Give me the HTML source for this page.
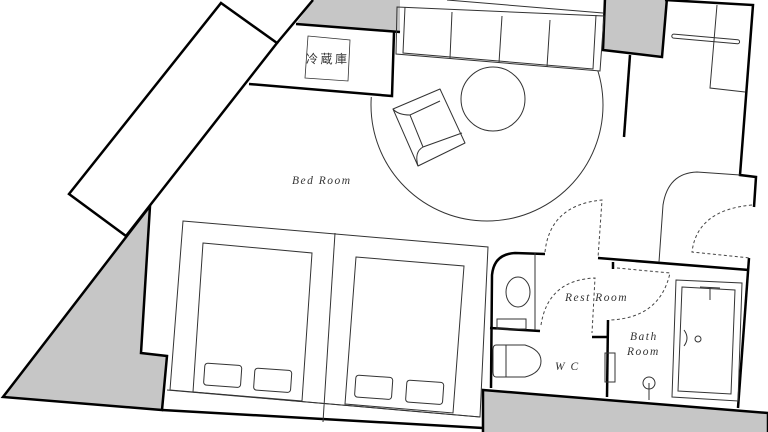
<!DOCTYPE html>
<html><head><meta charset="utf-8"><style>
html,body{margin:0;padding:0;background:#fff;width:768px;height:432px;overflow:hidden}
svg{display:block}
text{font-family:"Liberation Serif",serif;font-style:italic;fill:#333;letter-spacing:1.5px}
</style></head><body>
<svg width="768" height="432" viewBox="0 0 768 432" xmlns="http://www.w3.org/2000/svg">
<defs>
<clipPath id="rug"><polygon points="397,97 403,53 600,71 768,71 768,432 0,432 0,97"/></clipPath>
</defs>
<g fill="#c6c6c6" stroke="#000" stroke-width="2.5" stroke-linejoin="miter">
  <polygon points="313,0 400,0 400,32 296,24" stroke="none"/>
  <polygon points="605,-2 667,-2 662,57 603,50" />
  <polygon points="150,206 141,353 167,356 162,410 3,397" />
  <polygon points="483,390 768,413 768,440 483,440" />
</g>
<g fill="none" stroke="#000" stroke-width="2.5">
  <polygon points="221,3 277,43 126,236 69,194" fill="#fff"/>
  <polyline points="313,0 277,43"/>
  <polyline points="296,24 400,32"/>
  <polyline points="249,84 392,96 394,32"/>
  <polyline points="162,410 483,428"/>
  <polyline points="630,55 624,137"/>
  <polyline points="665,0 753,5 740,175 756,177 754,207"/>
  <path d="M491,388 L492,275 Q494,254 515,253 L545,254"/>
  <polyline points="490,328 540,331"/>
  <polyline points="598,258 749,270"/>
  <polyline points="613,262 613,269"/>
  <polyline points="749,258 738,408"/>
  <polyline points="608,320 607,397"/>
  <polyline points="592,337 608,337"/>
</g>
<polygon points="308,36 350,40 348,81 305,78" fill="none" stroke="#333" stroke-width="0.8"/>
<text x="306" y="63" font-size="12" style="font-style:normal;letter-spacing:2.5px" font-family="Liberation Serif, Noto Serif CJK SC, serif">冷蔵庫</text>
<circle cx="487" cy="105" r="116" fill="none" stroke="#333" stroke-width="1" clip-path="url(#rug)"/>
<g fill="none" stroke="#333" stroke-width="1">
  <line x1="447" y1="0" x2="603" y2="13"/>
  <polygon points="397,7 604,16 600,71 396,54"/>
  <polyline points="405,7 403,53 593,69 596,15"/>
  <line x1="452" y1="12" x2="450" y2="58"/>
  <line x1="502" y1="16" x2="499" y2="63"/>
  <line x1="550" y1="20" x2="547" y2="67"/>
  <circle cx="493" cy="99" r="32"/>
  <polygon points="393,109 440,89 465,143 418,166" stroke-linejoin="round"/>
  <path d="M393,109 Q398,115 410,115 L440,101"/>
  <line x1="410" y1="115" x2="423" y2="147"/>
  <path d="M418,166 Q414,152 423,147 L462,133"/>
  <polyline points="717,5 710,88 745,92"/>
  <rect x="672" y="34" width="68" height="4" rx="2" transform="rotate(5 672 34)"/>
  <polygon points="183,221 488,247 480,417 170,390"/>
  <line x1="335" y1="233" x2="323" y2="422"/>
  <line x1="167" y1="390" x2="480" y2="417"/>
  <polygon points="203,243 312,253 302,401 193,392"/>
  <polygon points="356,257 464,266 453,413 345,404"/>
  <rect x="205" y="363" width="37" height="22" rx="3" transform="rotate(4 205 363)"/>
  <rect x="255" y="368" width="37" height="22" rx="3" transform="rotate(4 255 368)"/>
  <rect x="356" y="375" width="37" height="22" rx="3" transform="rotate(4 356 375)"/>
  <rect x="407" y="380" width="37" height="22" rx="3" transform="rotate(4 407 380)"/>
  <path d="M659,262 L663,205 Q668,173 697,172 L740,175"/>
  <line x1="535" y1="253" x2="535" y2="330"/>
  <ellipse cx="518" cy="292" rx="12" ry="15"/>
  <rect x="497" y="319" width="29" height="10"/>
  <path d="M496,345 L525,345 Q541,350 541,361 Q541,373 525,377 L496,377 Q493,377 493,372 L493,350 Q493,345 496,345 Z"/>
  <line x1="506" y1="345" x2="506" y2="377"/>
  <rect x="605" y="353" width="10" height="29"/>
  <polygon points="676,280 742,283 738,401 672,397"/>
  <polygon points="682,287 735,290 731,394 678,391"/>
  <line x1="700" y1="287" x2="720" y2="288"/>
  <line x1="710" y1="288" x2="710" y2="300"/>
  <circle cx="698" cy="339" r="3"/>
  <path d="M684,330 Q690,338 684,346"/>
  <circle cx="649" cy="383" r="6"/>
  <line x1="649" y1="383" x2="649" y2="400"/>
</g>
<g fill="none" stroke="#444" stroke-width="1" stroke-dasharray="3,2.5">
  <path d="M545,252 Q550,205 602,200 L598,258"/>
  <path d="M752,205 Q697,210 692,252 L750,258"/>
  <path d="M541,325 Q548,280 595,278 L592,333"/>
  <path d="M617,268 L670,273 Q660,318 610,320"/>
</g>
<text x="292" y="184" font-size="11.5">Bed Room</text>
<text x="565" y="301" font-size="11.5">Rest Room</text>
<text x="630" y="340" font-size="11.5">Bath</text>
<text x="627" y="355" font-size="11.5">Room</text>
<text x="555" y="370" font-size="11.5">W C</text>
</svg>
</body></html>
